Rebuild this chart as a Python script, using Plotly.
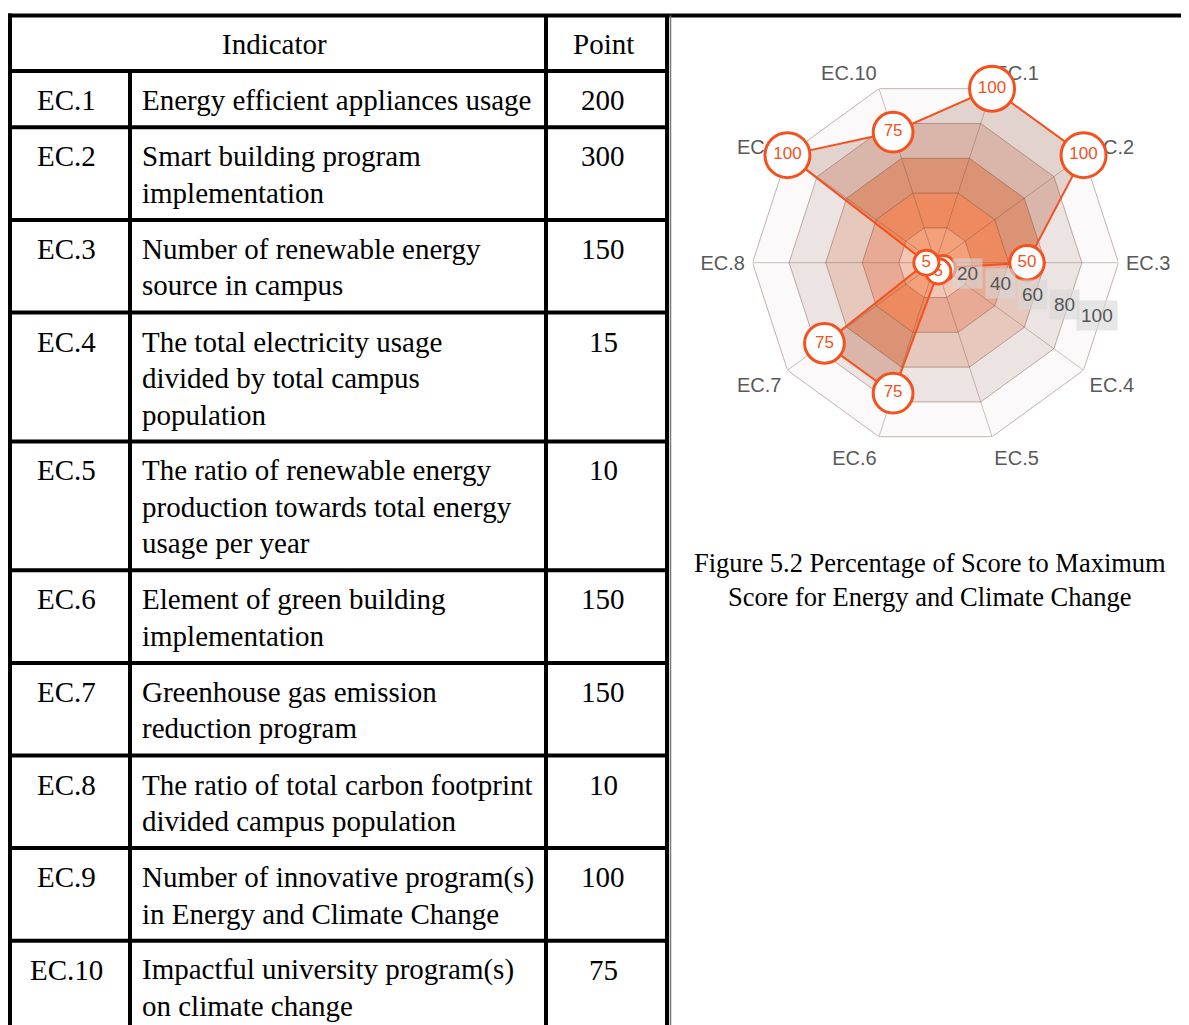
import numpy as np
import plotly.graph_objects as go

W, H = 1189, 1025
OFF = 8  # page body margin of the html page

# ---------------- data ----------------
header = ["Indicator", "Point"]
codes = ["EC.1", "EC.2", "EC.3", "EC.4", "EC.5", "EC.6", "EC.7", "EC.8", "EC.9", "EC.10"]
desc_lines = [
    ["Energy efficient appliances usage"],
    ["Smart building program", "implementation"],
    ["Number of renewable energy", "source in campus"],
    ["The total electricity usage", "divided by total campus", "population"],
    ["The ratio of renewable energy", "production towards total energy", "usage per year"],
    ["Element of green building", "implementation"],
    ["Greenhouse gas emission", "reduction program"],
    ["The ratio of total carbon footprint", "divided campus population"],
    ["Number of innovative program(s)", "in Energy and Climate Change"],
    ["Impactful university program(s)", "on climate change"],
]
points = [200, 300, 150, 15, 10, 150, 150, 10, 100, 75]
scores = [100, 100, 50, 5, 5, 75, 75, 5, 100, 75]
ring_levels = [20, 40, 60, 80, 100]
caption_lines = ["Figure 5.2 Percentage of Score to Maximum",
                 "Score for Energy and Climate Change"]

# ---------------- styles ----------------
ORANGE = "#f4511e"
band_colors = {100: "#fbf9f9", 80: "#ece4e2", 60: "#e6c8bd", 40: "#e8aa95", 20: "#f2c5b4"}
inside_colors = {100: "#e2d3ce", 80: "#d9b6a9", 60: "#da9374", 40: "#ee8a5f", 20: "#f4a07a"}
SERIF = "Liberation Serif, Times New Roman, serif"
SANS = "Liberation Sans, Arial, sans-serif"


def PX(x):
    return (x - OFF) / W


def PY(y):
    return 1 - (y - OFF) / H


n = len(codes)
ang = [i * 360.0 / n for i in range(n)]


def unit(a):
    r = np.deg2rad(a)
    return np.array([np.cos(r), np.sin(r)])


def clip_poly(vals, R):
    rs, ths = [], []
    for i in range(n):
        j = (i + 1) % n
        a, b = vals[i], vals[j]
        rs.append(min(a, R))
        ths.append(ang[i])
        if (a - R) * (b - R) < 0:
            t = (R - a) / (b - a)
            p = (1 - t) * a * unit(ang[i]) + t * b * unit(ang[j])
            rs.append(float(np.hypot(*p)))
            ths.append(float(np.degrees(np.arctan2(p[1], p[0])) % 360))
    rs.append(rs[0])
    ths.append(ths[0])
    return rs, ths


fig = go.Figure()

# background bands and clipped data fill
for R in sorted(ring_levels, reverse=True):
    fig.add_trace(go.Scatterpolar(r=[R] * (n + 1), theta=ang + [ang[0]], mode="lines",
                                  fill="toself", fillcolor=band_colors[R],
                                  line=dict(width=0), hoverinfo="skip", showlegend=False))
    rr, tt = clip_poly(scores, R)
    fig.add_trace(go.Scatterpolar(r=rr, theta=tt, mode="lines",
                                  fill="toself", fillcolor=inside_colors[R],
                                  line=dict(width=0), hoverinfo="skip", showlegend=False))

# ring grid lines
gr, gt = [], []
for lv in ring_levels:
    gr += [lv] * (n + 1) + [None]
    gt += ang + [ang[0]] + [None]
fig.add_trace(go.Scatterpolar(r=gr, theta=gt, mode="lines",
                              line=dict(color="rgba(105,55,40,0.38)", width=1),
                              hoverinfo="skip", showlegend=False, connectgaps=False))
# spokes
sr, st = [], []
for a in ang:
    sr += [0, 100, None]
    st += [a, a, None]
fig.add_trace(go.Scatterpolar(r=sr, theta=st, mode="lines",
                              line=dict(color="rgba(105,65,55,0.32)", width=1),
                              hoverinfo="skip", showlegend=False, connectgaps=False))

# data outline
fig.add_trace(go.Scatterpolar(r=scores + [scores[0]], theta=ang + [ang[0]], mode="lines",
                              line=dict(color=ORANGE, width=2), hoverinfo="skip", showlegend=False))
# markers, one trace per point so later circles sit above earlier labels
for s, a in zip(scores, ang):
    fig.add_trace(go.Scatterpolar(r=[s], theta=[a], mode="markers+text",
                                  text=[str(s)], textposition="middle center",
                                  textfont=dict(color=ORANGE, size=17, family=SANS),
                                  marker=dict(size=24 + 0.21 * s, color="white",
                                              line=dict(color=ORANGE, width=3)),
                                  showlegend=False))

# polar geometry (page pixels)
cx, cy, Rpx = 935.5, 262.7, 183.0
fig.update_layout(
    polar=dict(
        domain=dict(x=[PX(cx - Rpx), PX(cx + Rpx)], y=[PY(cy + Rpx), PY(cy - Rpx)]),
        bgcolor="rgba(0,0,0,0)",
        radialaxis=dict(range=[0, 100], visible=False),
        angularaxis=dict(type="linear", thetaunit="degrees", direction="clockwise", rotation=72,
                         tickmode="array", tickvals=ang, ticktext=codes, showgrid=False,
                         showline=False, ticks="outside", ticklen=3,
                         tickcolor="rgba(0,0,0,0)", layer="below traces",
                         tickfont=dict(family=SANS, size=20, color="#595959")),
    )
)

annotations = []
# radial tick badges
for lv in ring_levels:
    d = lv / 100 * Rpx * 0.93
    x = cx + d * np.cos(np.deg2rad(18))
    y = cy + d * np.sin(np.deg2rad(18))
    annotations.append(dict(x=PX(x), y=PY(y), xref="paper", yref="paper", text=str(lv),
                            xanchor="center", yanchor="middle",
                            showarrow=False, font=dict(family=SANS, size=19, color="#555555"),
                            bgcolor="rgba(215,215,215,0.6)", borderpad=4))

# ---------------- table ----------------
shapes = []


def hline(y, x0, x1, w=4, c="black"):
    shapes.append(dict(type="line", xref="paper", yref="paper", x0=PX(x0), x1=PX(x1),
                       y0=PY(y), y1=PY(y), line=dict(color=c, width=w)))


def vline(x, y0, y1, w=4, c="black"):
    shapes.append(dict(type="line", xref="paper", yref="paper", x0=PX(x), x1=PX(x),
                       y0=PY(y0), y1=PY(y1), line=dict(color=c, width=w)))


X_L, X_C1, X_C2, X_R = 10, 130, 546, 667
Y_TOP, Y_HEAD = 15.5, 71
BOTTOM = 1060
LINE_H = 36.5

row_tops = []
y = Y_HEAD
for lines in desc_lines:
    row_tops.append(y)
    y += 20 + 36.3 * len(lines)

hline(Y_TOP, 8, W + 20)
hline(Y_HEAD, X_L, X_R)
for yt in row_tops[1:]:
    hline(yt, X_L, X_R)
vline(X_L, Y_TOP - 2, BOTTOM)
vline(X_C1, Y_HEAD, BOTTOM)
vline(X_C2, Y_TOP, BOTTOM)
vline(X_R, Y_TOP, BOTTOM)
vline(X_R + 3.5, Y_TOP, BOTTOM, w=1.5, c="#777777")


def txt(x, y, s, anchor="center", size=29):
    annotations.append(dict(x=PX(x), y=PY(y), xref="paper", yref="paper", text=s,
                            showarrow=False, xanchor=anchor, yanchor="middle",
                            font=dict(family=SERIF, size=size, color="black")))


txt(274, 44, header[0])
txt(603, 44, header[1])
for code, lines, pt, top in zip(codes, desc_lines, points, row_tops):
    y0 = top + 29
    txt(66.5, y0, code)
    txt(603, y0, str(pt))
    for k, ln in enumerate(lines):
        txt(140, y0 + k * LINE_H, ln, anchor="left")

for k, ln in enumerate(caption_lines):
    txt(930, 563 + k * 34, ln, size=26.5)

fig.update_layout(width=W, height=H, margin=dict(l=0, r=0, t=0, b=0),
                  paper_bgcolor="white", plot_bgcolor="white",
                  shapes=shapes, annotations=annotations, showlegend=False)

fig.write_html("out.html")
